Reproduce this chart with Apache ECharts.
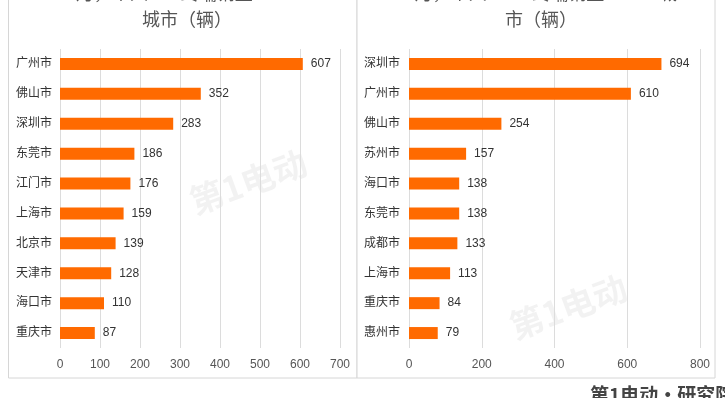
<!DOCTYPE html>
<html>
<head>
    <meta charset="utf-8">
    <script src="https://cdn.jsdelivr.net/npm/echarts@6/dist/echarts.min.js"></script>
    <style>
        body { margin: 0; background: #fff; }
    </style>
</head>
<body>
<div id="main" style="width: 725px;height:398px;"></div>
<script type="text/javascript">
    // 数据
    var bevCities = ['广州市', '佛山市', '深圳市', '东莞市', '江门市', '上海市', '北京市', '天津市', '海口市', '重庆市'];
    var bevSales = [607, 352, 283, 186, 176, 159, 139, 128, 110, 87];
    var phevCities = ['深圳市', '广州市', '佛山市', '苏州市', '海口市', '东莞市', '成都市', '上海市', '重庆市', '惠州市'];
    var phevSales = [694, 610, 254, 157, 138, 138, 133, 113, 84, 79];
    var bevTitle = '2月，个人BEV终端销量TOP10\n城市（辆）';
    var phevTitle = '2月，个人PHEV终端销量TOP10城\n市（辆）';

    var font = '"Liberation Sans", "Noto Sans CJK SC", sans-serif';
    var orange = '#ff6a00';

    var myChart = echarts.init(document.getElementById('main'));

    function xAxis(idx, max, interval) {
        return {
            type: 'value', gridIndex: idx, min: 0, max: max, interval: interval,
            axisLine: { show: false }, axisTick: { show: false },
            axisLabel: { color: '#555', fontSize: 12, fontFamily: font, margin: 11 },
            splitLine: { lineStyle: { color: '#dcdcdc' } }
        };
    }
    function yAxis(idx, data, margin) {
        return {
            type: 'category', gridIndex: idx, data: data, inverse: true,
            axisLine: { show: false }, axisTick: { show: false },
            axisLabel: { color: '#333', fontSize: 12, fontFamily: font, margin: margin }
        };
    }
    function bars(idx, data) {
        return {
            type: 'bar', xAxisIndex: idx, yAxisIndex: idx, data: data,
            barWidth: 12, itemStyle: { color: orange },
            label: { show: true, position: 'right', distance: 8, color: '#333', fontSize: 12, fontFamily: font }
        };
    }

    var option = {
        backgroundColor: '#fff',
        animation: false,
        graphic: [
            { type: 'rect', shape: { x: 8.5, y: -2, width: 348.5, height: 380 }, style: { fill: '#fff', stroke: '#d6d6d6', lineWidth: 1 }, z: -10 },
            { type: 'rect', shape: { x: 357, y: -2, width: 358, height: 380 }, style: { fill: '#fff', stroke: '#d6d6d6', lineWidth: 1 }, z: -10 },
            { type: 'text', left: 185, top: 145, rotation: 0.35, style: { text: '第1电动', fill: 'rgba(0,0,0,0.05)', font: 'bold 34px "Noto Sans CJK SC"' }, z: 0 },
            { type: 'text', left: 505, top: 270, rotation: 0.35, style: { text: '第1电动', fill: 'rgba(0,0,0,0.05)', font: 'bold 34px "Noto Sans CJK SC"' }, z: 0 },
            { type: 'text', left: 590, top: 385, style: { text: '第1电动·研究院', fill: '#444', font: 'bold 19px "Noto Sans CJK SC"' }, z: 5 }
        ],
        title: [
            { text: bevTitle, left: 182, top: -25, textAlign: 'center',
              textStyle: { color: '#555', fontSize: 18, fontWeight: 'normal', lineHeight: 26, fontFamily: '"Noto Sans CJK SC", sans-serif' } },
            { text: phevTitle, left: 536, top: -25, textAlign: 'center',
              textStyle: { color: '#555', fontSize: 18, fontWeight: 'normal', lineHeight: 26, fontFamily: '"Noto Sans CJK SC", sans-serif' } }
        ],
        grid: [
            { left: 60, top: 49, width: 280, height: 299, containLabel: false },
            { left: 409, top: 49, width: 291, height: 299, containLabel: false }
        ],
        xAxis: [xAxis(0, 700, 100), xAxis(1, 800, 200)],
        yAxis: [yAxis(0, bevCities, 8), yAxis(1, phevCities, 9)],
        series: [bars(0, bevSales), bars(1, phevSales)]
    };

    myChart.setOption(option);
</script>
</body>
</html>
